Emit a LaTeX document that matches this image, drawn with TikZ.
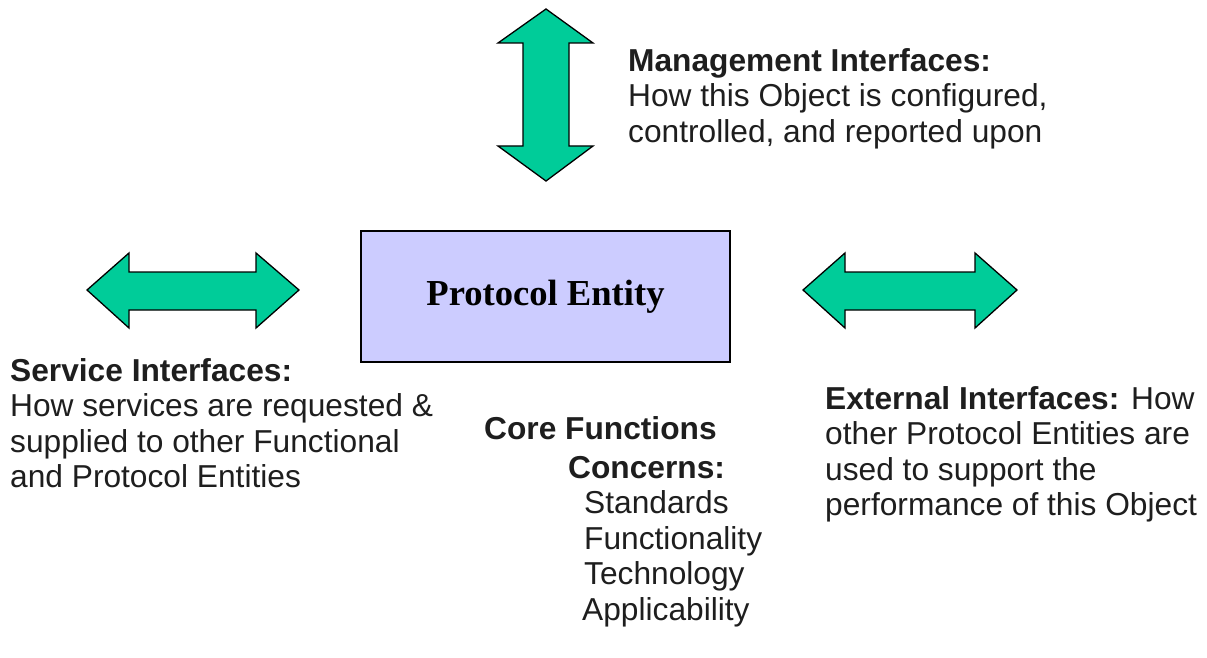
\documentclass[tikz,border=0pt]{standalone}
\usepackage{fontspec}
\setmainfont{Liberation Sans}
\newfontfamily\boxserif{Liberation Serif}
\definecolor{arrowgreen}{RGB}{0,204,153}
\definecolor{boxblue}{RGB}{204,204,255}
\definecolor{textdark}{RGB}{30,30,30}
\begin{document}
\begin{tikzpicture}[x=1pt,y=-1pt,
  fatarrow/.style={draw=black,line width=1.3pt,fill=arrowgreen,line join=miter},
  entitybox/.style={draw=black,line width=1.8pt,fill=boxblue,minimum width=369pt,minimum height=131pt,inner sep=0pt},
  label/.style={anchor=north west,inner sep=0pt,align=left,text=textdark,font=\fontsize{31.7}{35.5}\selectfont}
]
\useasboundingbox (0,0) rectangle (1207,658);
% vertical management arrow
\draw[fatarrow] (546,9) -- (593,43) -- (569,43) -- (569,146) -- (593,146) -- (546,181)
  -- (498,146) -- (523,146) -- (523,43) -- (498,43) -- cycle;
% left service arrow
\draw[fatarrow] (87,290) -- (129,253) -- (129,272) -- (256,272) -- (256,253) -- (299,290)
  -- (256,328) -- (256,310) -- (129,310) -- (129,328) -- cycle;
% right external arrow
\draw[fatarrow] (803,290) -- (845,253) -- (845,272) -- (975,272) -- (975,253) -- (1017,290)
  -- (975,328) -- (975,310) -- (845,310) -- (845,328) -- cycle;
% central box
\node[entitybox] (entity) at (545.5,296.5) {\boxserif\fontsize{36.6}{40}\selectfont\bfseries Protocol Entity};
% texts
\node[label] (mgmt) at (628,48) {\textbf{Management Interfaces:}\\How this Object is configured,\\controlled, and reported upon};
\node[label] (service) at (10,358) {\textbf{Service Interfaces:}\\How services are requested \&\\supplied to other Functional\\and Protocol Entities};
\node[label] (core) at (484,416) {\textbf{Core Functions}};
\node[label] (concerns) at (568,456) {\textbf{Concerns:}\\\hspace*{16pt}Standards\\\hspace*{16pt}Functionality\\\hspace*{16pt}Technology\\\hspace*{14pt}Applicability};
\node[label] (external) at (825,386) {\textbf{External Interfaces:} How\\other Protocol Entities are\\used to support the\\performance of this Object};
\end{tikzpicture}
\end{document}
